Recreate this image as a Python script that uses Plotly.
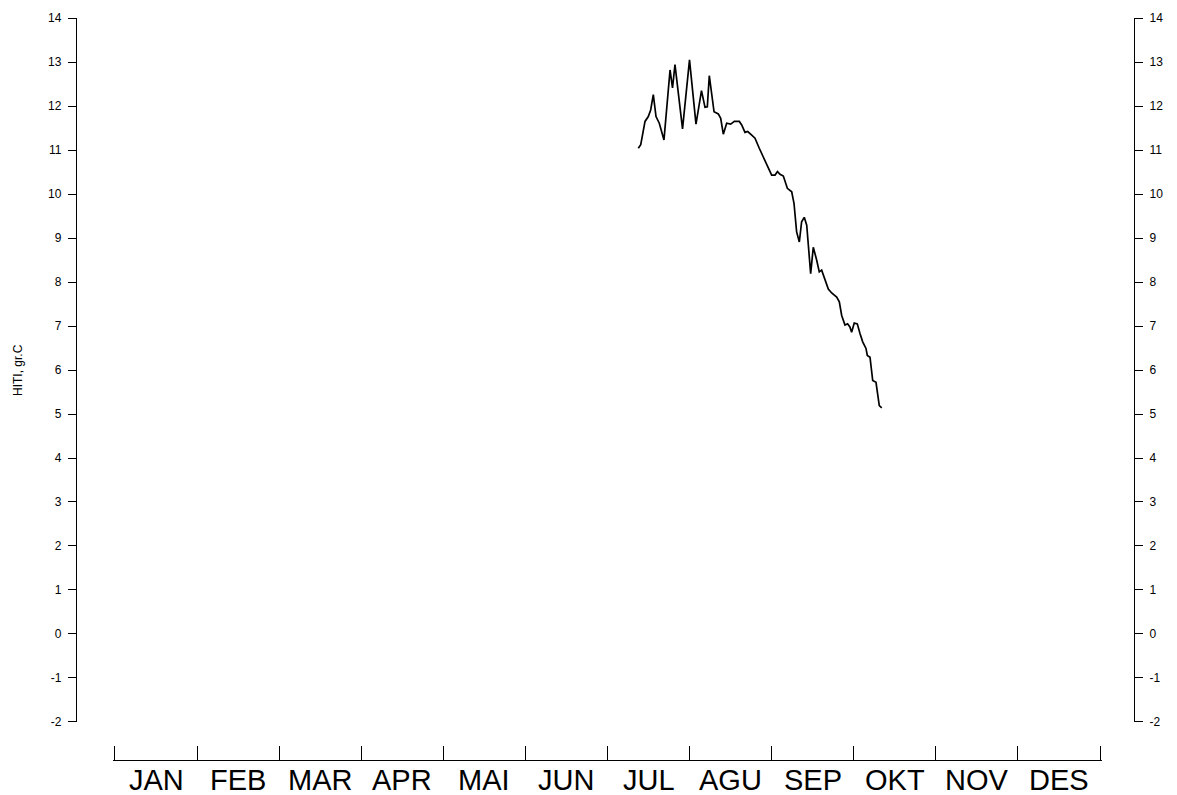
import plotly.graph_objects as go

# Month labels (x axis: 0 = 1 Jan, 12 = 31 Dec, equal-width months)
months = ["JAN", "FEB", "MAR", "APR", "MAI", "JUN", "JUL", "AGU", "SEP", "OKT", "NOV", "DES"]
month_centers = [i + 0.5 for i in range(12)]
month_bounds = list(range(13))

# Temperature series (x in decimal months, y in degrees C)
t_month = [6.375, 6.405, 6.457, 6.497, 6.526, 6.558, 6.591, 6.631, 6.688, 6.762,
           6.792, 6.822, 6.914, 6.999, 7.078, 7.145, 7.188, 7.216, 7.240, 7.298,
           7.350, 7.379, 7.411, 7.452, 7.501, 7.545, 7.606, 7.635, 7.675, 7.708,
           7.757, 7.797, 7.849, 7.919, 7.959, 8.000, 8.041, 8.071, 8.102, 8.142,
           8.191, 8.244, 8.272, 8.304, 8.337, 8.365, 8.397, 8.427, 8.475, 8.507,
           8.548, 8.580, 8.609, 8.641, 8.690, 8.731, 8.792, 8.824, 8.853, 8.893,
           8.925, 8.953, 8.974, 9.006, 9.043, 9.076, 9.109, 9.149, 9.165, 9.198,
           9.231, 9.271, 9.299, 9.311, 9.341]
temp = [11.04, 11.12, 11.65, 11.76, 11.91, 12.26, 11.76, 11.61, 11.23, 12.82,
        12.41, 12.94, 11.48, 13.05, 11.59, 12.35, 11.97, 11.98, 12.69, 11.87,
        11.82, 11.72, 11.36, 11.61, 11.59, 11.65, 11.65, 11.57, 11.40, 11.42,
        11.34, 11.27, 11.04, 10.77, 10.59, 10.43, 10.43, 10.51, 10.45, 10.41,
        10.13, 10.05, 9.79, 9.14, 8.91, 9.37, 9.47, 9.29, 8.19, 8.79,
        8.50, 8.23, 8.27, 8.08, 7.84, 7.75, 7.66, 7.55, 7.24, 7.02,
        7.05, 6.98, 6.86, 7.07, 7.05, 6.83, 6.64, 6.49, 6.33, 6.29,
        5.76, 5.72, 5.35, 5.19, 5.14]

y_ticks = list(range(-2, 15))
y_tick_text = [str(v) for v in y_ticks]  # plain hyphen minus, as in the original

FONT = "Liberation Sans, Arial, Helvetica, sans-serif"

fig = go.Figure()
fig.add_trace(go.Scatter(x=t_month, y=temp, mode="lines",
                         line=dict(color="black", width=1.7),
                         showlegend=False, hoverinfo="x+y"))
fig.add_trace(go.Scatter(x=t_month, y=temp, mode="lines", yaxis="y2",
                         line=dict(color="rgba(0,0,0,0)", width=0),
                         showlegend=False, hoverinfo="skip"))

yax = dict(range=[-2.001, 14.001], domain=[0.0512, 1.0], tickmode="array",
           tickvals=y_ticks, ticktext=y_tick_text,
           showline=True, linecolor="black", linewidth=1.3,
           ticks="outside", ticklen=8, tickwidth=1, tickcolor="black",
           ticklabelstandoff=4,
           showgrid=False, zeroline=False, anchor="free", automargin=False,
           tickfont=dict(family=FONT, size=12, color="black"))

annotations = [dict(text="HITI, gr.C", xref="paper", yref="paper",
                    x=-0.0548, y=0.5256, xanchor="center", yanchor="middle",
                    textangle=-90, showarrow=False,
                    font=dict(family=FONT, size=12, color="black"))]
for name, xc in zip(months, month_centers):
    annotations.append(dict(text=name, x=xc, xref="x", y=0, yref="paper",
                            xanchor="center", yanchor="top", yshift=-2,
                            showarrow=False,
                            font=dict(family=FONT, size=29, color="black")))

fig.update_layout(
    template="none",
    width=1177, height=795,
    margin=dict(l=76, r=43, t=18, b=35, pad=0),
    paper_bgcolor="white", plot_bgcolor="white",
    font=dict(family=FONT, color="black"),
    xaxis=dict(range=[-0.02, 12.02], domain=[0.03531, 0.96942], anchor="free", position=0,
               showline=True, linecolor="black", linewidth=1.3,
               tickmode="array", tickvals=month_bounds, showticklabels=False,
               ticks="inside", ticklen=14, tickwidth=1.3, tickcolor="black",
               showgrid=False, zeroline=False, automargin=False),
    yaxis=dict(**yax, position=0, side="left"),
    yaxis2=dict(**yax, position=1, side="right", overlaying="y"),
    annotations=annotations,
)

# remove the page's default body margin so the figure fills the window exactly
fig.write_html("out.html", config={"displayModeBar": False},
               post_script="document.body.style.margin='0';")
